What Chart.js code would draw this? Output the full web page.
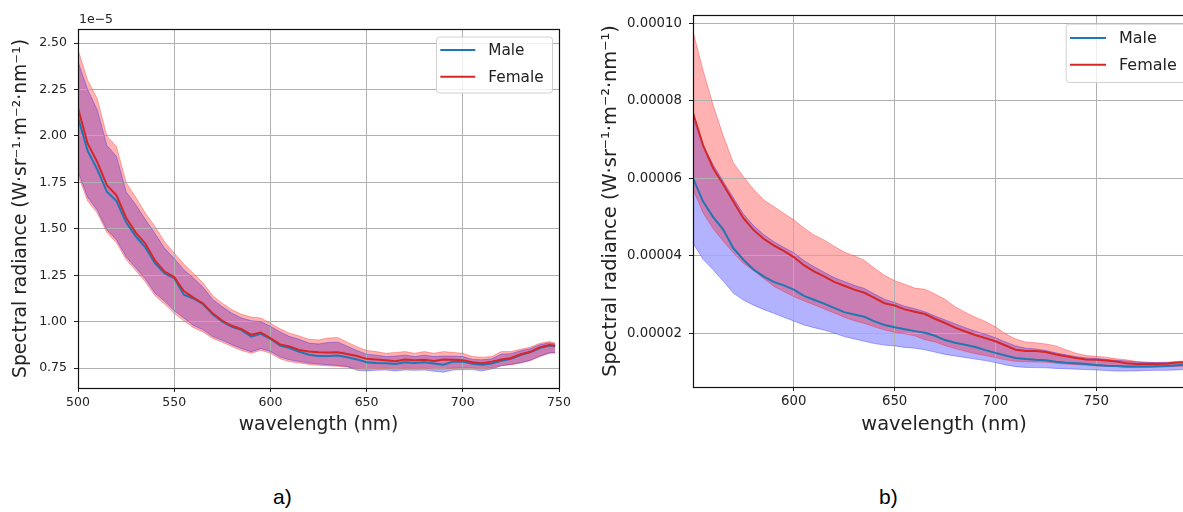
<!DOCTYPE html>
<html>
<head>
<meta charset="utf-8">
<script src="https://cdn.jsdelivr.net/npm/chart.js@4.4.0/dist/chart.umd.min.js"></script>
<style>
  html, body { margin: 0; padding: 0; background: #fff; overflow: hidden; }
  #wrap { position: relative; width: 1183px; height: 512px; overflow: hidden; background: #fff; }
  canvas { position: absolute; top: 0; }
  #chartA { left: 0; width: 590px; height: 450px; }
  #chartB { left: 590px; width: 620px; height: 450px; }
  .cap { position: absolute; top: 485px; font-family: "Liberation Sans", Arial, sans-serif; font-size: 21px; color: #000; }
</style>
</head>
<body>
<div id="wrap">
  <canvas id="chartA" width="590" height="450"></canvas>
  <canvas id="chartB" width="620" height="450"></canvas>
  <div class="cap" style="left:273px">a)</div>
  <div class="cap" style="left:879px">b)</div>
</div>
<script>
// ---- panel a) : radiance in units of 1e-5 W·sr⁻¹·m⁻²·nm⁻¹ ----
const wavelengthA = [500,505,510,515,520,525,530,535,540,545,550,555,560,565,570,575,580,585,590,595,
  600,605,610,615,620,625,630,635,640,645,650,655,660,665,670,675,680,685,690,695,
  700,705,710,715,720,725,730,735,740,745,748];
const maleMeanA = [2.10,1.92,1.82,1.70,1.65,1.535,1.46,1.40,1.315,1.26,1.235,1.145,1.125,1.095,1.04,1.0,0.972,0.955,0.92,0.935,
  0.908,0.872,0.858,0.838,0.822,0.815,0.815,0.818,0.808,0.797,0.782,0.778,0.776,0.772,0.782,0.778,0.782,0.775,0.768,0.786,
  0.785,0.774,0.768,0.775,0.79,0.80,0.82,0.835,0.858,0.872,0.868];
const maleHighA = [2.40,2.25,2.14,1.95,1.89,1.70,1.63,1.55,1.475,1.395,1.34,1.28,1.235,1.185,1.12,1.08,1.045,1.02,1.005,1.0,
  0.975,0.945,0.92,0.905,0.885,0.88,0.888,0.89,0.868,0.845,0.825,0.82,0.812,0.815,0.82,0.812,0.82,0.812,0.815,0.815,
  0.812,0.797,0.795,0.80,0.825,0.828,0.843,0.855,0.876,0.886,0.88];
const maleLowA = [1.81,1.67,1.60,1.495,1.44,1.35,1.29,1.23,1.154,1.11,1.06,1.02,0.98,0.956,0.92,0.90,0.876,0.855,0.838,0.855,
  0.84,0.81,0.795,0.786,0.777,0.772,0.768,0.764,0.759,0.738,0.735,0.738,0.74,0.735,0.74,0.738,0.74,0.733,0.728,0.74,
  0.742,0.742,0.735,0.745,0.762,0.77,0.779,0.792,0.814,0.832,0.834];
const femaleMeanA = [2.15,1.96,1.86,1.735,1.68,1.56,1.48,1.42,1.33,1.27,1.24,1.165,1.13,1.098,1.045,1.005,0.978,0.96,0.93,0.942,
  0.912,0.878,0.866,0.848,0.84,0.835,0.834,0.836,0.826,0.815,0.80,0.797,0.793,0.787,0.797,0.792,0.795,0.788,0.796,0.795,
  0.793,0.782,0.776,0.785,0.796,0.805,0.825,0.838,0.862,0.874,0.87];
const femaleHighA = [2.465,2.30,2.20,2.00,1.944,1.75,1.67,1.585,1.513,1.43,1.37,1.31,1.26,1.208,1.14,1.10,1.064,1.04,1.025,1.02,
  0.992,0.962,0.938,0.923,0.905,0.902,0.912,0.915,0.89,0.865,0.845,0.839,0.83,0.834,0.839,0.83,0.839,0.83,0.839,0.834,
  0.83,0.812,0.809,0.812,0.839,0.839,0.852,0.862,0.884,0.893,0.885];
const femaleLowA = [1.79,1.65,1.585,1.48,1.425,1.335,1.275,1.215,1.14,1.095,1.045,1.005,0.968,0.945,0.91,0.89,0.866,0.845,0.83,0.846,
  0.83,0.80,0.785,0.778,0.77,0.765,0.762,0.76,0.755,0.748,0.745,0.748,0.75,0.745,0.75,0.748,0.75,0.745,0.745,0.75,
  0.752,0.752,0.745,0.752,0.764,0.768,0.777,0.79,0.812,0.83,0.832];
const xTicksA = [500,550,600,650,700,750];
const yTicksA = [0.75,1.00,1.25,1.50,1.75,2.00,2.25,2.50];

// ---- panel b) : radiance in units of 1e-5, labelled in plain units ----
const wavelengthB = [550,555,560,565,570,575,580,585,590,595,600,605,610,615,620,625,630,635,640,645,
  650,655,660,665,670,675,680,685,690,695,700,705,710,715,720,725,730,735,740,745,
  750,755,760,765,770,775,780,785,790,795,799];
const maleMeanB = [6.00,5.40,5.00,4.68,4.20,3.90,3.65,3.47,3.33,3.24,3.13,2.97,2.87,2.77,2.66,2.55,2.49,2.43,2.31,2.22,
  2.16,2.11,2.06,2.02,1.94,1.83,1.76,1.71,1.65,1.57,1.50,1.43,1.37,1.34,1.32,1.31,1.27,1.245,1.23,1.21,
  1.19,1.17,1.16,1.15,1.15,1.15,1.155,1.16,1.18,1.20,1.21];
const maleHighB = [7.55,6.85,6.35,5.92,5.50,5.08,4.78,4.55,4.37,4.22,4.08,3.88,3.72,3.58,3.44,3.34,3.24,3.16,3.02,2.88,
  2.80,2.70,2.64,2.56,2.45,2.35,2.25,2.15,2.06,1.98,1.89,1.78,1.68,1.62,1.60,1.56,1.50,1.45,1.40,1.37,
  1.36,1.33,1.31,1.29,1.27,1.255,1.25,1.25,1.26,1.27,1.27];
const maleLowB = [4.33,3.91,3.64,3.35,3.04,2.86,2.73,2.62,2.52,2.42,2.32,2.22,2.15,2.09,2.01,1.92,1.86,1.80,1.74,1.70,
  1.68,1.64,1.62,1.58,1.52,1.46,1.42,1.38,1.34,1.30,1.25,1.19,1.145,1.125,1.12,1.115,1.10,1.09,1.08,1.07,
  1.06,1.045,1.03,1.03,1.035,1.045,1.05,1.05,1.06,1.075,1.08];
const femaleMeanB = [7.68,6.85,6.26,5.84,5.40,4.97,4.67,4.44,4.27,4.13,3.97,3.76,3.60,3.47,3.33,3.23,3.13,3.05,2.92,2.78,
  2.72,2.62,2.56,2.50,2.38,2.27,2.15,2.05,1.96,1.88,1.80,1.69,1.58,1.55,1.55,1.52,1.46,1.41,1.37,1.33,
  1.32,1.30,1.28,1.23,1.21,1.21,1.21,1.22,1.25,1.26,1.27];
const femaleHighB = [9.79,8.78,7.88,7.10,6.40,6.04,5.72,5.45,5.27,5.10,4.93,4.72,4.54,4.41,4.25,4.10,4.00,3.89,3.68,3.50,
  3.36,3.27,3.17,3.14,3.02,2.88,2.69,2.55,2.42,2.31,2.17,1.99,1.86,1.78,1.76,1.73,1.68,1.58,1.49,1.43,
  1.41,1.39,1.35,1.32,1.28,1.26,1.25,1.26,1.28,1.29,1.30];
const femaleLowB = [5.71,5.11,4.70,4.38,4.08,3.81,3.62,3.42,3.22,3.08,2.95,2.84,2.74,2.63,2.53,2.42,2.33,2.26,2.17,2.09,
  2.03,1.99,1.94,1.84,1.78,1.69,1.61,1.54,1.48,1.43,1.38,1.32,1.285,1.27,1.265,1.26,1.23,1.21,1.195,1.18,
  1.16,1.155,1.145,1.125,1.12,1.12,1.13,1.14,1.15,1.16,1.17];
const xTicksB = [600,650,700,750];
const yTicksB = [2,4,6,8,10];

const seriesNames = ['Male', 'Female'];
const MALE_COLOR = '#1f77b4';
const FEMALE_COLOR = '#d62728';
const MALE_BAND = 'rgba(0,0,255,0.3)';
const FEMALE_BAND = 'rgba(255,0,0,0.3)';
const FONT = 'DejaVu Sans';
const Y_TITLE = 'Spectral radiance (W·sr⁻¹·m⁻²·nm⁻¹)';

function points(xs, ys) { return xs.map((x, i) => ({ x: x, y: ys[i] })); }

function buildDatasets(xs, mMean, mLow, mHigh, fMean, fLow, fHigh) {
  const band = (ys, color, fill, order) => ({
    data: points(xs, ys), borderColor: color, backgroundColor: color,
    borderWidth: 1, pointRadius: 0, fill: fill, order: order
  });
  return [
    { label: seriesNames[1], data: points(xs, fMean), borderColor: FEMALE_COLOR, borderWidth: 2, pointRadius: 0, fill: false, order: 0 },
    { label: seriesNames[0], data: points(xs, mMean), borderColor: MALE_COLOR, borderWidth: 2, pointRadius: 0, fill: false, order: 1 },
    band(fHigh, FEMALE_BAND, '+1', 2),
    band(fLow, FEMALE_BAND, false, 3),
    band(mHigh, MALE_BAND, '+1', 4),
    band(mLow, MALE_BAND, false, 5)
  ];
}

// matplotlib-style framed legend inside the upper right corner
const boxLegend = {
  id: 'boxLegend',
  afterDatasetsDraw(chart, args, o) {
    const { ctx, chartArea } = chart;
    const x = chartArea.right - o.marginRight - o.width;
    const y = chartArea.top + o.marginTop;
    ctx.save();
    ctx.beginPath();
    ctx.roundRect(x + 0.5, y + 0.5, o.width, o.height, 3);
    ctx.fillStyle = 'rgba(255,255,255,0.8)';
    ctx.fill();
    ctx.strokeStyle = '#d0d0d0';
    ctx.lineWidth = 1;
    ctx.stroke();
    const entries = [
      { text: seriesNames[0], color: MALE_COLOR },
      { text: seriesNames[1], color: FEMALE_COLOR }
    ];
    ctx.font = o.fontSize + 'px "' + FONT + '"';
    ctx.textBaseline = 'middle';
    ctx.textAlign = 'left';
    entries.forEach((e, i) => {
      const cy = y + o.firstRow + i * o.rowGap;
      ctx.strokeStyle = e.color;
      ctx.lineWidth = 2;
      ctx.beginPath();
      ctx.moveTo(x + o.lineStart, cy);
      ctx.lineTo(x + o.lineStart + o.lineLen, cy);
      ctx.stroke();
      ctx.fillStyle = '#222';
      ctx.fillText(e.text, x + o.textStart, cy + 1);
    });
    ctx.restore();
  }
};

// axes frame on all four sides
const frame = {
  id: 'frame',
  afterDatasetsDraw(chart) {
    const { ctx, chartArea: a } = chart;
    ctx.save();
    ctx.strokeStyle = '#111';
    ctx.lineWidth = 1.2;
    ctx.strokeRect(Math.round(a.left) + 0.5, Math.round(a.top) + 0.5,
      Math.round(a.right - a.left), Math.round(a.bottom - a.top));
    ctx.restore();
  }
};

// exponent note above the y axis
const offsetText = {
  id: 'offsetText',
  afterDraw(chart, args, o) {
    if (!o.text) return;
    const { ctx, chartArea } = chart;
    ctx.save();
    ctx.font = o.fontSize + 'px "' + FONT + '"';
    ctx.fillStyle = '#222';
    ctx.textAlign = 'left';
    ctx.textBaseline = 'middle';
    ctx.fillText(o.text, chartArea.left + 1, chartArea.top - 9);
    ctx.restore();
  }
};

function makeChart(id, cfg) {
  const tickFont = { family: FONT, size: cfg.tickSize };
  const titleFont = { family: FONT, size: cfg.titleSize };
  return new Chart(document.getElementById(id), {
    type: 'line',
    data: { datasets: cfg.datasets },
    plugins: [boxLegend, frame, offsetText],
    options: {
      responsive: false,
      animation: false,
      devicePixelRatio: 1,
      layout: { padding: cfg.padding },
      elements: { line: { tension: 0 } },
      plugins: {
        legend: { display: false },
        tooltip: { enabled: false },
        filler: { drawTime: 'beforeDraw' },
        boxLegend: cfg.legend,
        offsetText: cfg.offset
      },
      scales: {
        x: {
          type: 'linear', min: cfg.xMin, max: cfg.xMax,
          afterBuildTicks: s => { s.ticks = cfg.xTicks.map(v => ({ value: v })); },
          afterFit: s => { s.height = cfg.xAxisHeight; },
          grid: { color: '#b0b0b0', lineWidth: 1, tickColor: '#222', tickLength: 4 },
          border: { display: false },
          ticks: { font: tickFont, color: '#222', padding: 3, maxRotation: 0, autoSkip: false,
                   callback: v => String(v) },
          title: { display: true, text: 'wavelength (nm)', font: titleFont, color: '#222',
                   padding: { top: 0, bottom: cfg.xTitlePad } }
        },
        y: {
          type: 'linear', min: cfg.yMin, max: cfg.yMax,
          afterBuildTicks: s => { s.ticks = cfg.yTicks.map(v => ({ value: v })); },
          afterFit: s => { s.width = cfg.yAxisWidth; },
          grid: { color: '#b0b0b0', lineWidth: 1, tickColor: '#222', tickLength: 4 },
          border: { display: false },
          ticks: { font: tickFont, color: '#222', padding: 7, autoSkip: false, callback: cfg.yFormat },
          title: { display: true, text: Y_TITLE, font: titleFont, color: '#222',
                   padding: { top: cfg.yTitlePad, bottom: 0 } }
        }
      }
    }
  });
}

makeChart('chartA', {
  datasets: buildDatasets(wavelengthA, maleMeanA, maleLowA, maleHighA, femaleMeanA, femaleLowA, femaleHighA),
  xMin: 500, xMax: 750, yMin: 0.643, yMax: 2.576,
  xTicks: xTicksA, yTicks: yTicksA,
  yFormat: v => v.toFixed(2),
  tickSize: 12.5, titleSize: 18.7,
  padding: { top: 29, right: 31, bottom: 0, left: 0 },
  xAxisHeight: 62, yAxisWidth: 78, xTitlePad: 14, yTitlePad: 10,
  legend: { width: 116, height: 56, marginRight: 7, marginTop: 7.5, firstRow: 13.5, rowGap: 26.7,
            lineStart: 4.3, lineLen: 35, textStart: 52.3, fontSize: 15.3 },
  offset: { text: '1e\u22125', fontSize: 12.5 }
});

makeChart('chartB', {
  datasets: buildDatasets(wavelengthB, maleMeanB, maleLowB, maleHighB, femaleMeanB, femaleLowB, femaleHighB),
  xMin: 550, xMax: 799, yMin: 0.62, yMax: 10.21,
  xTicks: xTicksB, yTicks: yTicksB,
  yFormat: v => (v * 1e-5).toFixed(5),
  tickSize: 13.3, titleSize: 19.4,
  padding: { top: 13, right: 15, bottom: 0, left: 0 },
  xAxisHeight: 63, yAxisWidth: 103, xTitlePad: 13.6, yTitlePad: 9,
  legend: { width: 121, height: 58.3, marginRight: 8.3, marginTop: 8.7, firstRow: 14.3, rowGap: 26.7,
            lineStart: 4.3, lineLen: 36, textStart: 53.3, fontSize: 16 },
  offset: { text: '' }
});
</script>
</body>
</html>
